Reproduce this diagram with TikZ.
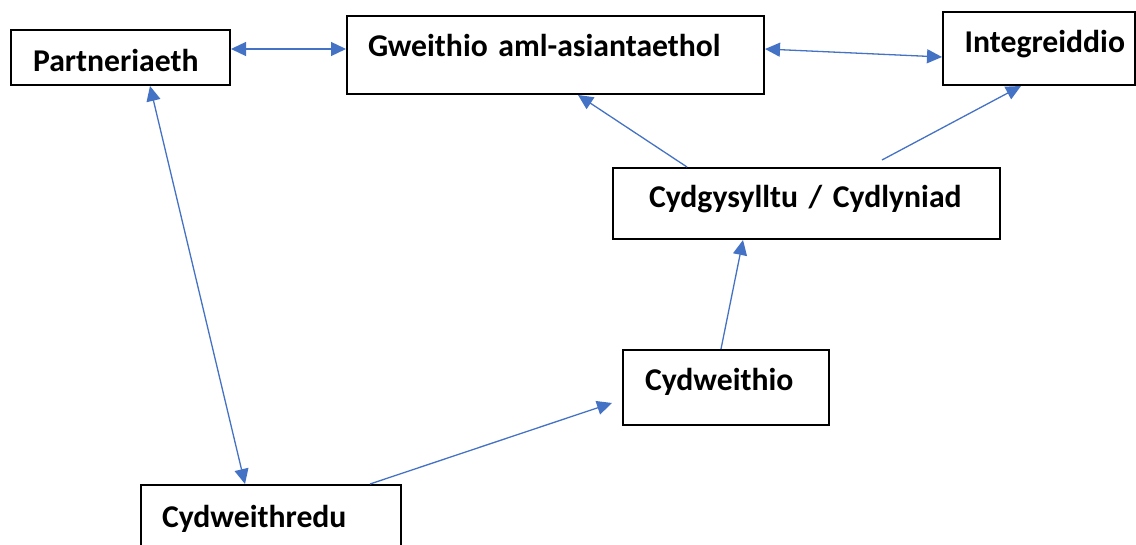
\documentclass[tikz,border=0pt]{standalone}
\usepackage{fontspec}
\setmainfont{Carlito}
\usetikzlibrary{arrows.meta}
\definecolor{linkblue}{HTML}{4472C4}
\begin{document}
\begin{tikzpicture}[x=1pt, y=-1pt,
  box/.style={draw, line width=2pt, inner ysep=0pt,
    font=\fontsize{31.7}{37}\selectfont\bfseries},
  link/.style={draw=linkblue, line width=1.3pt,
    -{Triangle[length=15pt, width=14pt]}, color=linkblue}]
\useasboundingbox (0,0) rectangle (1136,545);
\node[box, inner xsep=22pt, text width=175pt, text height=42pt, text depth=13pt] (a) at (120.5,57.5) {Partneriaeth};
\node[box, inner xsep=21pt, text width=375pt, text height=41pt, text depth=37pt] (b) at (555.5,55) {Gweithio aml-asiantaethol};
\node[box, align=right, inner xsep=10pt, text width=172pt, text height=41pt, text depth=32pt] (c) at (1039,48.5) {Integreiddio};
\node[box, inner xsep=36pt, text width=315pt, text height=40pt, text depth=31pt] (d) at (806.5,203.5) {Cydgysylltu / Cydlyniad};
\node[box, inner xsep=22pt, text width=162pt, text height=41pt, text depth=34pt] (e) at (726,387.5) {Cydweithio};
\node[box, inner xsep=21pt, text width=218pt, text height=42pt, text depth=33pt] (f) at (271,522.5) {Cydweithredu};
\draw[link, {Triangle[length=15pt, width=14pt]}-{Triangle[length=15pt, width=14pt]}] ([yshift=8.5pt]a.east) -- ([yshift=6pt]b.west);
\draw[link, {Triangle[length=15pt, width=14pt]}-{Triangle[length=15pt, width=14pt]}] ([yshift=6pt]b.east) -- ([yshift=-8.5pt]c.west);
\draw[link, {Triangle[length=15pt, width=14pt]}-{Triangle[length=15pt, width=14pt]}] ([xshift=29.5pt]a.south) -- ([xshift=-26pt]f.north);
\draw[link] ([xshift=99pt]f.north) -- ([xshift=-10pt, yshift=-15.5pt]e.west);
\draw[link] ([xshift=-5pt]e.north) -- ([xshift=-63.5pt]d.south);
\draw[link] ([xshift=-119.5pt]d.north) -- ([xshift=22.5pt]b.south);
\draw[link] ([xshift=75.5pt, yshift=7pt]d.north) -- ([xshift=-18pt]c.south);
\end{tikzpicture}
\end{document}
